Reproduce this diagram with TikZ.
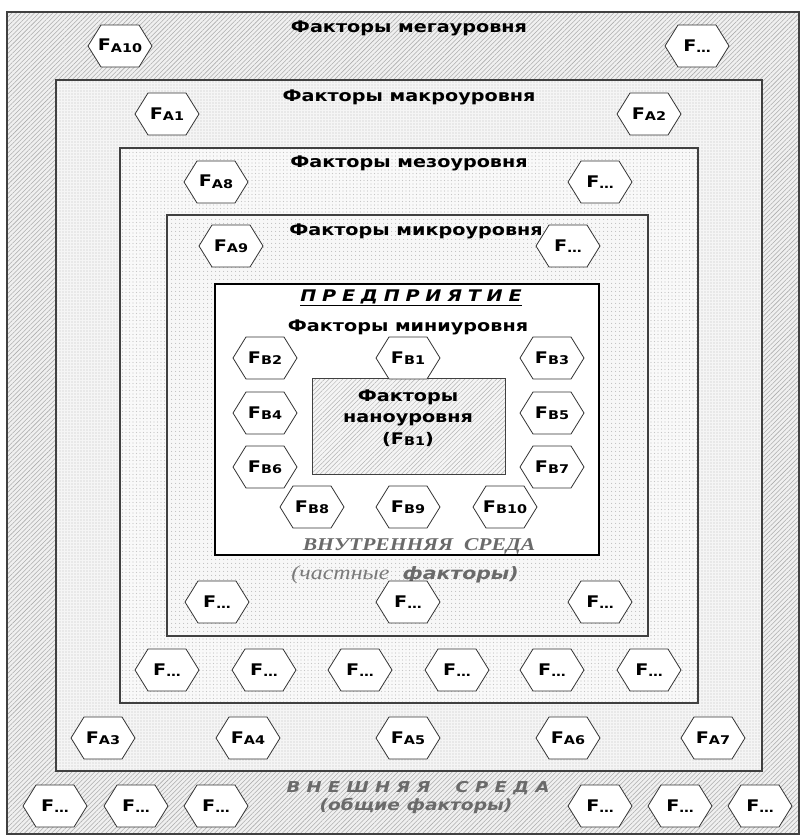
\documentclass[tikz,border=0pt]{standalone}
\usepackage{fontspec}
\setmainfont[FakeStretch=1.2]{DejaVu Sans}
\newfontfamily\serifit[FakeStretch=1.2]{Liberation Serif}
\newfontfamily\spacedsans[FakeStretch=1.2,LetterSpace=36]{DejaVu Sans}
\newfontfamily\spacedsanswide[FakeStretch=1.2,LetterSpace=42]{DejaVu Sans}
\usetikzlibrary{patterns.meta}
\definecolor{txtgray}{HTML}{6A6A6A}
\definecolor{txtgraylt}{HTML}{7A7A7A}
\tikzset{
  hexbox/.style={draw=black!80, fill=white, line width=0.8pt},
  hexlbl/.style={inner sep=0pt, font=\bfseries\fontsize{16}{17}\selectfont},
  title/.style={inner sep=0pt, font=\bfseries\fontsize{16}{18}\selectfont},
  frame/.style={draw=black!75, line width=1.2pt},
}
\newcommand\Fs[1]{F\raisebox{-1.5pt}{\fontsize{12}{12}\selectfont #1}}
\newcommand\Fd{F\raisebox{-1.5pt}{\fontsize{12}{12}\selectfont\ldots}}
\newcommand\hexf[3]{%
  \draw[hexbox] (#2) ++(-32,0) -- ++(13,-21) -- ++(38,0) -- ++(13,21) -- ++(-13,21) -- ++(-38,0) -- cycle;
  \node[hexlbl] (#1) at (#2) {#3};}
\begin{document}
\begin{tikzpicture}[x=1pt,y=-1pt]
\useasboundingbox (0,0) rectangle (801,835);
\fill[white] (0,0) rectangle (801,835);
% mega
\fill[gray!12] (7,12) rectangle (799,834);
\fill[pattern={Lines[angle=45,distance=3.2pt,line width=0.55pt]}, pattern color=gray!65] (7,12) rectangle (799,834);
\draw[frame] (7,12) rectangle (799,834);
% macro
\fill[gray!8] (56,80) rectangle (762,771);
\fill[pattern={Dots[distance=3pt,radius=0.55pt]}, pattern color=gray!50] (56,80) rectangle (762,771);
\draw[frame] (56,80) rectangle (762,771);
% meso
\fill[gray!5] (120,148) rectangle (698,703);
\fill[pattern={Dots[distance=3.5pt,radius=0.6pt]}, pattern color=gray!45] (120,148) rectangle (698,703);
\draw[frame] (120,148) rectangle (698,703);
% micro
\fill[gray!6] (167,215) rectangle (648,636);
\fill[pattern={Dots[distance=4pt,radius=0.65pt]}, pattern color=gray!50] (167,215) rectangle (648,636);
\draw[frame] (167,215) rectangle (648,636);
% enterprise
\draw[fill=white, draw=black, line width=1.8pt] (215,284) rectangle (599,555);
% nano
\fill[gray!8] (312,378) rectangle (505,474);
\fill[pattern={Lines[angle=45,distance=3.2pt,line width=0.45pt]}, pattern color=gray!60] (312,378) rectangle (505,474);
\draw[draw=black!75, line width=0.9pt] (312,378) rectangle (505,474);

% titles
\node[title] (tmega) at (409,28) {Факторы мегауровня};
\node[title] (tmacro) at (409,97) {Факторы макроуровня};
\node[title] (tmeso) at (409,163) {Факторы мезоуровня};
\node[title] (tmicro) at (416,231) {Факторы микроуровня};
\node[inner sep=0pt, font=\spacedsans\bfseries\itshape\fontsize{16}{17}\selectfont] (tent) at (411,298) {\underline{ПРЕДПРИЯТИЕ}};
\node[title] (tmini) at (408,327) {Факторы миниуровня};
\node[title, align=center, font=\bfseries\fontsize{16}{21.5}\selectfont] (tnano) at (408,418) {Факторы\\наноуровня\\(\Fs{B1})};
\node[inner sep=0pt, text=txtgray, font=\serifit\bfseries\itshape\fontsize{18}{20}\selectfont] (tint) at (419,546) {ВНУТРЕННЯЯ\ \ СРЕДА};
\node[inner sep=0pt, text=txtgray, font=\fontsize{17}{18}\selectfont] (tintf) at (405,575) {{\serifit\itshape\fontsize{20}{20}\selectfont\color{txtgraylt}(частные}\ \ {\bfseries\itshape факторы)}};
\node[inner sep=0pt, text=txtgray, font=\spacedsanswide\bfseries\itshape\fontsize{15}{16}\selectfont] (text1) at (418,788) {ВНЕШНЯЯ\ \ СРЕДА};
\node[inner sep=0pt, text=txtgray, font=\bfseries\itshape\fontsize{15.5}{16}\selectfont] (text2) at (416,806) {(общие факторы)};

% mega hexes
\hexf{ha10}{120,46}{\Fs{A10}}
\hexf{hm1}{697,46}{\Fd}
\hexf{hm2}{55,806}{\Fd}
\hexf{hm3}{136,806}{\Fd}
\hexf{hm4}{216,806}{\Fd}
\hexf{hm5}{600,806}{\Fd}
\hexf{hm6}{680,806}{\Fd}
\hexf{hm7}{760,806}{\Fd}
% macro hexes
\hexf{ha1}{167,114}{\Fs{A1}}
\hexf{ha2}{649,114}{\Fs{A2}}
\hexf{ha3}{103,738}{\Fs{A3}}
\hexf{ha4}{248,738}{\Fs{A4}}
\hexf{ha5}{408,738}{\Fs{A5}}
\hexf{ha6}{568,738}{\Fs{A6}}
\hexf{ha7}{713,738}{\Fs{A7}}
% meso hexes
\hexf{ha8}{216,182}{\Fs{A8}}
\hexf{hs1}{600,182}{\Fd}
\hexf{hs2}{167,670}{\Fd}
\hexf{hs3}{264,670}{\Fd}
\hexf{hs4}{360,670}{\Fd}
\hexf{hs5}{457,670}{\Fd}
\hexf{hs6}{552,670}{\Fd}
\hexf{hs7}{649,670}{\Fd}
% micro hexes
\hexf{ha9}{231,246}{\Fs{A9}}
\hexf{hc1}{568,246}{\Fd}
\hexf{hc2}{217,602}{\Fd}
\hexf{hc3}{408,602}{\Fd}
\hexf{hc4}{600,602}{\Fd}
% enterprise hexes
\hexf{hb2}{265,358}{\Fs{B2}}
\hexf{hb1}{408,358}{\Fs{B1}}
\hexf{hb3}{552,358}{\Fs{B3}}
\hexf{hb4}{265,413}{\Fs{B4}}
\hexf{hb5}{552,413}{\Fs{B5}}
\hexf{hb6}{265,467}{\Fs{B6}}
\hexf{hb7}{552,467}{\Fs{B7}}
\hexf{hb8}{312,507}{\Fs{B8}}
\hexf{hb9}{408,507}{\Fs{B9}}
\hexf{hb10}{505,507}{\Fs{B10}}
\end{tikzpicture}
\end{document}
